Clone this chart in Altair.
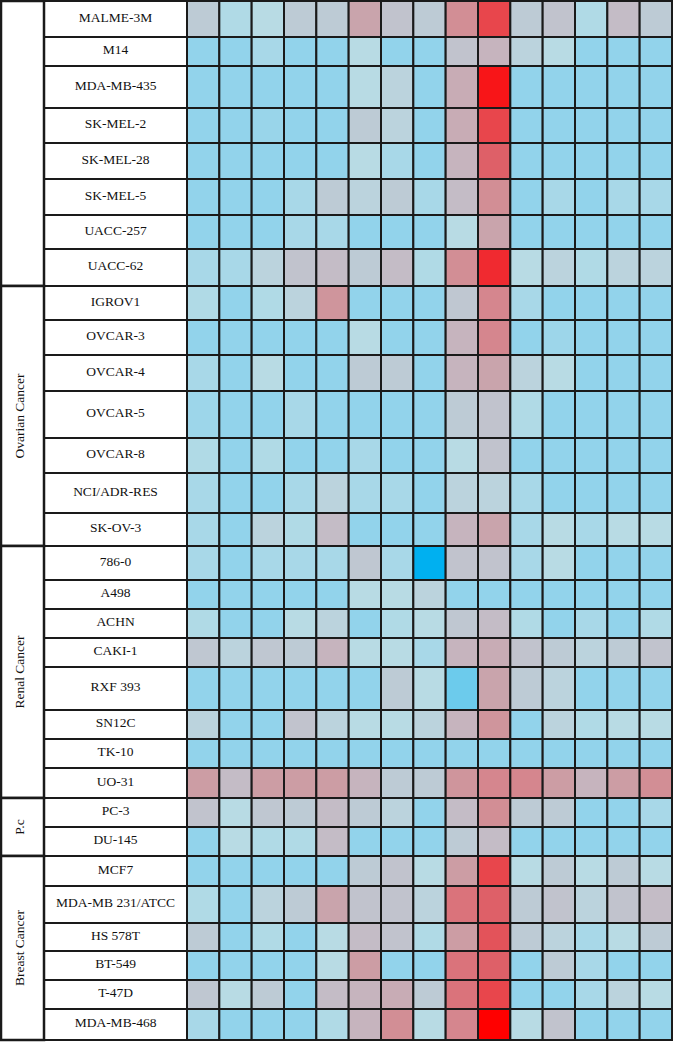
import altair as alt
import pandas as pd

# ---------------- data ----------------
group_names = ["", "Ovarian Cancer", "Renal Cancer", "P.c", "Breast Cancer"]

melanoma_lines = ["MALME-3M", "M14", "MDA-MB-435", "SK-MEL-2", "SK-MEL-28",
                  "SK-MEL-5", "UACC-257", "UACC-62"]
ovarian_lines = ["IGROV1", "OVCAR-3", "OVCAR-4", "OVCAR-5", "OVCAR-8",
                 "NCI/ADR-RES", "SK-OV-3"]
renal_lines = ["786-0", "A498", "ACHN", "CAKI-1", "RXF 393", "SN12C", "TK-10", "UO-31"]
prostate_lines = ["PC-3", "DU-145"]
breast_lines = ["MCF7", "MDA-MB 231/ATCC", "HS 578T", "BT-549", "T-47D", "MDA-MB-468"]

# heat level per cell (0 = strong blue ... 14 = pure red), 15 columns
melanoma_values = [
    [5, 3.5, 4, 5, 5, 8, 6, 5, 9.5, 12, 5, 6, 3.5, 6.5, 5],
    [2, 2, 3, 2, 2, 4, 2, 2, 6, 7, 4.5, 4, 2, 2, 2],
    [2, 2, 2, 2, 2, 4, 4.5, 2, 7.5, 13.5, 2, 2, 2, 2, 2],
    [2, 2, 2.3, 2, 2, 5, 4.5, 2, 7.5, 12, 2, 2, 2, 2, 2],
    [2, 2, 2, 2, 2, 4, 3, 2, 7, 11, 2, 2, 2, 2, 2],
    [2, 2, 2, 3, 5, 4.5, 5, 3, 6.5, 9.5, 2, 3, 2, 3, 3],
    [2, 2, 2, 3, 3, 2, 2, 2, 4, 8, 2, 2, 2, 2, 2],
    [3, 3, 4.5, 6, 6.5, 5, 6.5, 3.5, 9.5, 13, 4, 4.5, 3.5, 4.5, 4.5],
]
ovarian_values = [
    [3.5, 2, 3.5, 4.5, 9, 2, 2, 2, 5.5, 10, 3, 2, 2, 2, 2],
    [2, 2, 2, 2, 2, 4, 2, 2, 7, 10, 2, 2.5, 2, 2, 2],
    [3, 2, 4, 2, 2, 5, 5, 2, 7, 8, 4.5, 4, 2, 2, 2],
    [2.5, 2, 2, 3, 2, 2, 2, 2, 5, 6, 3.5, 2, 2, 2, 2],
    [3.5, 2, 3.5, 2, 2, 3, 2, 2, 4, 6, 2, 2, 2, 2, 2],
    [3, 2, 2, 3, 4.5, 3, 3, 2, 4.5, 4.5, 3, 2, 2, 2, 2],
    [3, 2, 4.5, 3.5, 6.5, 2, 2, 2, 7, 8, 3, 4, 3, 4, 4],
]
renal_values = [
    [3, 2, 3, 3, 3, 5.5, 3, 0, 6, 6, 3, 4, 2, 2, 2],
    [2, 2, 2, 2, 2, 4, 4, 4.5, 2, 2, 2, 2, 2, 2, 2],
    [3.5, 2, 2, 4, 4.5, 2, 3.5, 4, 5.5, 6.5, 3.5, 2, 3, 2, 3.5],
    [5.5, 4.5, 5.5, 5, 7, 4, 4, 3, 7, 7.5, 6, 5, 4.5, 5, 6],
    [2, 2, 2, 2, 2, 2, 5, 4, 1, 8, 5, 4.5, 2, 2, 2],
    [4.5, 2, 2, 6, 4.5, 4, 4, 4.5, 7, 9, 2, 4.5, 3.5, 4, 4],
    [2, 2, 2, 2, 2, 2, 2, 2, 2, 2, 2, 2, 2, 2, 2],
    [8.5, 6.5, 8.5, 8.5, 8.5, 7, 5, 5, 9, 10, 10, 8.5, 7, 8.5, 9.5],
]
prostate_values = [
    [6, 4, 5.5, 5, 6.5, 5, 4.5, 2, 6.5, 9.5, 5, 5, 2, 2, 3],
    [2, 4, 3.5, 3.5, 6.5, 2, 2, 2, 5, 6.5, 2, 2, 2, 2, 2],
]
breast_values = [
    [2, 2, 2, 2, 2, 5, 6, 4, 8.5, 12, 4, 5, 4, 5, 4],
    [3.5, 2, 4.5, 5, 8, 6, 6, 4.5, 10.5, 11, 5, 6, 4.5, 6, 6.5],
    [5, 2, 3.5, 2, 4, 6.5, 6, 3.5, 8.5, 11.5, 5, 4.5, 3, 4, 5],
    [2, 2, 2, 2, 4, 8.5, 2, 2, 10.5, 11, 2, 5, 3, 2, 2],
    [5.5, 4, 5, 2, 6.5, 7, 7.5, 5, 10.5, 12, 2, 2, 3, 4.5, 4],
    [3, 2, 2, 2, 3.5, 7, 9.5, 4, 10, 14, 4, 6, 2, 2, 2],
]

color_stops = [0, 1, 2, 3, 4, 5, 6, 7, 8, 9, 10, 11, 12, 13, 14]
color_range = ["#00B0F0", "#6CCBEC", "#92D3EB", "#A8D8E8", "#B8DBE4",
               "#BDCBD5", "#C1C3CD", "#C6B4BE", "#C9A4AC", "#CF959C",
               "#D5868E", "#DE6068", "#E8464C", "#F02A30", "#FF0000"]

# ---------------- layout (pixels) ----------------
W, H = 673, 1042
top = 1
left, group_right, name_right, right = 1, 44, 187, 672
n_cols = 15
row_heights = [36, 29, 42, 35, 36, 36, 34, 37,
               34, 35, 36, 47, 35, 40, 33,
               34, 29, 29, 29, 43, 29, 29, 30,
               29, 29,
               30, 37, 28, 29, 29, 31]

all_groups = [melanoma_lines, ovarian_lines, renal_lines, prostate_lines, breast_lines]
all_values = [melanoma_values, ovarian_values, renal_values, prostate_values, breast_values]

cell_w = (right - name_right) / n_cols

cells, names, groups = [], [], []
r = 0
y = top
for g, (lines, vals) in enumerate(zip(all_groups, all_values)):
    g_y0 = y
    for name, row in zip(lines, vals):
        h = row_heights[r]
        y0, y1 = y, y + h
        names.append(dict(x0=group_right, x1=name_right, y0=y0, y1=y1,
                          xc=(group_right + name_right) / 2, yc=(y0 + y1) / 2 - 1.5,
                          label=name))
        for c, v in enumerate(row):
            cells.append(dict(x0=name_right + c * cell_w, x1=name_right + (c + 1) * cell_w,
                              y0=y0, y1=y1, v=v))
        y = y1
        r += 1
    groups.append(dict(x0=left, x1=group_right, y0=g_y0, y1=y,
                       xc=(left + group_right) / 2 - 2.5, yc=(g_y0 + y) / 2,
                       label=group_names[g]))

cells_df = pd.DataFrame(cells)
names_df = pd.DataFrame(names)
groups_df = pd.DataFrame(groups)

xs = alt.Scale(domain=[0, W], nice=False, zero=False)
ys = alt.Scale(domain=[0, H], nice=False, zero=False, reverse=True)

X = lambda f: alt.X(f, type="quantitative", scale=xs, axis=None)
Y = lambda f: alt.Y(f, type="quantitative", scale=ys, axis=None)

stroke = "#1a1a1a"

cell_layer = alt.Chart(cells_df).mark_rect(stroke=stroke, strokeWidth=2).encode(
    x=X("x0"), x2="x1", y=Y("y0"), y2="y1",
    color=alt.Color("v:Q", scale=alt.Scale(domain=color_stops, range=color_range,
                                           interpolate="rgb"), legend=None),
)

name_box = alt.Chart(names_df).mark_rect(fill="white", stroke=stroke, strokeWidth=2).encode(
    x=X("x0"), x2="x1", y=Y("y0"), y2="y1")

group_box = alt.Chart(groups_df).mark_rect(fill="white", stroke=stroke, strokeWidth=2.5).encode(
    x=X("x0"), x2="x1", y=Y("y0"), y2="y1")

name_text = alt.Chart(names_df).mark_text(
    font="Liberation Serif", fontSize=13.5, color="#111111", baseline="middle", align="center"
).encode(x=X("xc"), y=Y("yc"), text="label:N")

group_text = alt.Chart(groups_df).mark_text(
    font="Liberation Serif", fontSize=13.5, color="#111111", baseline="middle",
    align="center", angle=270
).encode(x=X("xc"), y=Y("yc"), text="label:N")

chart = alt.layer(cell_layer, name_box, group_box, name_text, group_text).properties(
    width=W, height=H, padding=0, autosize=alt.AutoSizeParams(type="none"),
    background="white"
).configure_view(stroke=None)

chart.save("out.html", embed_options={"renderer": "svg", "actions": False})
